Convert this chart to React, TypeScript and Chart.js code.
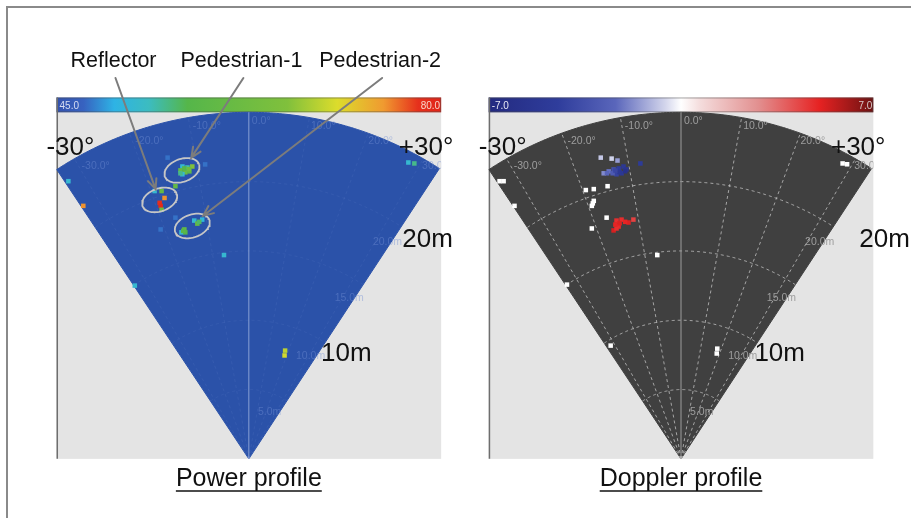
import React, { useEffect, useRef } from "react";
import { Chart, registerables } from "chart.js";

Chart.register(...registerables);

// ---------------- data ----------------
const powerBarLabels = ["45.0", "80.0"];
const dopplerBarLabels = ["-7.0", "7.0"];
const POWER_MIN = 45;
const POWER_MAX = 80;
const DOPPLER_MIN = -7;
const DOPPLER_MAX = 7;

const rangeRings = [5, 10, 15, 20];
const rangeRingLabels = ["5.0m", "10.0m", "15.0m", "20.0m"];
const angleLines = [-30, -20, -10, 0, 10, 20, 30];
const angleLineLabels = ["-30.0°", "-20.0°", "-10.0°", "0.0°", "10.0°", "20.0°", "30.0°"];

// Power profile detections: lateral x (m), forward y (m), power (dB)
const powerX = [
  -4.76, -4.4, -4.05, -4.9, -4.55, -4.76, -4.26, -4.62, -4.3, -4.9,
  -6.39, -6.32, -6.04, -6.25, -6.25, -6.75,
  -3.91, -3.69, -3.34, -4.62, -4.83, -4.55, -3.55, -4.7,
  -5.82, -3.13, -5.26, -5.26, -6.32,
  11.43, 11.86, -12.93, -11.86, -1.78, -8.17, 2.56, 2.6,
];
const powerY = [
  21.09, 21.02, 21.09, 20.81, 20.67, 20.53, 20.74, 20.95, 20.9, 20.6,
  18.47, 18.25, 18.82, 17.97, 19.32, 19.32,
  17.19, 16.97, 17.26, 16.55, 16.34, 16.34, 17.1, 16.45,
  21.73, 21.24, 19.67, 17.4, 16.55,
  21.38, 21.31, 20.03, 18.25, 14.7, 12.5, 7.46, 7.81,
];
const powerDb = [
  52, 54, 66, 60, 61, 52, 59, 57, 62, 55,
  78, 79, 75, 61, 60, 52,
  52, 60, 51, 60, 52, 57, 56, 58,
  48, 48, 60, 48, 48,
  52, 55, 52, 75, 52, 52, 70, 69,
];

// Doppler profile detections: lateral x (m), forward y (m), velocity (m/s)
const dopplerX = [
  -5.54, -5.18, -4.83, -4.47, -4.12, -4.26, -4.62, -3.91, -2.91, -5.75, -4.97, -4.55,
  -4.9, -4.4, -4.0, -5.3, -4.7,
  -6.82, -6.25, -5.26, -6.25, -6.39, -6.32, -5.33, -6.39,
  -4.62, -4.26, -3.76, -3.41, -4.47, -4.83, -4.62, -4.0, -4.4, -4.7,
  -13.0, -12.71, -11.93, 11.58, 11.9, -1.7, -8.17, -5.04, 2.56, 2.6,
];
const dopplerY = [
  20.6, 20.74, 20.88, 20.95, 21.09, 20.6, 20.53, 20.88, 21.31, 21.73, 21.66, 21.52,
  20.6, 20.7, 20.75, 20.6, 20.8,
  19.39, 19.46, 19.67, 18.61, 18.25, 18.43, 17.4, 16.62,
  17.19, 17.26, 17.05, 17.26, 16.76, 16.48, 16.62, 17.1, 17.0, 16.9,
  20.03, 20.03, 18.25, 21.31, 21.25, 14.7, 12.57, 8.17, 7.6, 7.95,
];
const dopplerVel = [
  -1.8, -2.2, -3.5, -4.6, -5.2, -5.0, -4.2, -5.4, -4.8, -0.8, -0.6, -1.5,
  -3.0, -5.2, -6.0, -2.5, -4.0,
  0, 0, 0, 0, 0, 0, 0, 0,
  4.8, 4.8, 5.2, 4.4, 4.9, 5.3, 4.8, 5.0, 5.2, 5.0,
  0, 0, 0, 0, 0, 0, 0, 0, 0, 0,
];

// Annotated targets (power profile)
const targetNames = ["Reflector", "Pedestrian-1", "Pedestrian-2"];
const targetCenterX = [-6.39, -4.79, -4.05];
const targetCenterY = [18.68, 20.81, 16.8];
const arrowTipX = [-6.68, -4.12, -3.27];
const arrowTipY = [19.46, 21.73, 17.54];

// ---------------- layout ----------------
const CANVAS_W = 911;
const CANVAS_H = 518;
const PX_PER_M = 14.08;
const LEFT_APEX_PX = 247;
const RIGHT_APEX_PX = 683;
const APEX_Y_PX = 462;
const MAX_RANGE = 25;
const FOV = 33.4;
const HALF_W = 13.78;
const BAR_H = 1.07;
const D2R = Math.PI / 180;
const FONT = "'Liberation Sans', Arial, Helvetica, sans-serif";

type Stop = [number, string];
const POWER_STOPS: Stop[] = [
  [0, "#3452ad"], [0.07, "#3762c0"], [0.15, "#2eb3e5"], [0.24, "#3cbcc0"],
  [0.34, "#55b64a"], [0.6, "#80c03c"], [0.73, "#dcdc2c"], [0.85, "#f09a30"],
  [0.94, "#e6301c"], [1, "#e02418"],
];
const DOPPLER_STOPS: Stop[] = [
  [0, "#232a80"], [0.18, "#2f3d9c"], [0.33, "#5a66bb"], [0.46, "#d4d6ec"],
  [0.5, "#ffffff"], [0.55, "#f4dcdc"], [0.7, "#e29090"], [0.86, "#e62222"],
  [1, "#6c1212"],
];

function hexRgb(h: string) {
  const n = parseInt(h.slice(1), 16);
  return [(n >> 16) & 255, (n >> 8) & 255, n & 255];
}
function colorAt(stops: Stop[], t: number) {
  t = Math.max(0, Math.min(1, t));
  for (let i = 1; i < stops.length; i++) {
    if (t <= stops[i][0]) {
      const [t0, c0] = stops[i - 1];
      const [t1, c1] = stops[i];
      const f = (t - t0) / (t1 - t0 || 1);
      const a = hexRgb(c0), b = hexRgb(c1);
      const r = a.map((v, k) => Math.round(v + (b[k] - v) * f));
      return `rgb(${r[0]},${r[1]},${r[2]})`;
    }
  }
  return stops[stops.length - 1][1];
}

function arcPts(r: number, a0: number, a1: number, step = 0.5) {
  const pts: { x: number; y: number }[] = [];
  for (let a = a0; a <= a1 + 1e-9; a += step) pts.push({ x: r * Math.sin(a * D2R), y: r * Math.cos(a * D2R) });
  return pts;
}
function ellipsePts(cx: number, cy: number, rx: number, ry: number, rot: number) {
  const pts: { x: number; y: number }[] = [];
  const c = Math.cos(rot * D2R), s = Math.sin(rot * D2R);
  for (let i = 0; i <= 72; i++) {
    const t = (i / 72) * Math.PI * 2;
    const ex = rx * Math.cos(t), ey = ry * Math.sin(t);
    pts.push({ x: cx + ex * c - ey * s, y: cy + ex * s + ey * c });
  }
  return pts;
}

const PANELS = [
  {
    axis: "x", fan: "#2b52a9", stops: POWER_STOPS, barLabels: powerBarLabels,
    barLabelColors: ["#d6dcf2", "#f8d4c8"], gridColor: "rgba(150,175,235,0.09)",
    centerColor: "rgba(200,212,242,0.6)", gridLabelColor: "rgba(115,145,212,0.45)",
    caption: "Power profile", label20X: 11.0, label10X: 5.18,
  },
  {
    axis: "x2", fan: "#404040", stops: DOPPLER_STOPS, barLabels: dopplerBarLabels,
    barLabelColors: ["#e8e8f4", "#d8c8c8"], gridColor: "rgba(190,190,190,0.8)",
    centerColor: "#9c9c9c", gridLabelColor: "#9e9e9e",
    caption: "Doppler profile", label20X: 12.78, label10X: 5.26,
  },
];

// ring label anchors (deg, m)
const RING_LABEL_POS: [number, number][] = [[11, 3.4], [24.5, 8.15], [28, 13.1], [29.6, 18.0]];
const ANNOT_LEFT_M = [-12.78, -4.9, 5.04];
const ANNOT_BASE_M = 28.27;

function buildDatasets() {
  const ds: any[] = [];
  PANELS.forEach((p) => {
    ds.push({
      data: [{ x: 0, y: 0 }, ...arcPts(MAX_RANGE, -FOV, FOV), { x: 0, y: 0 }],
      xAxisID: p.axis, yAxisID: "y", showLine: true, fill: "shape",
      backgroundColor: p.fan, borderColor: p.fan, borderWidth: 1, pointRadius: 0, order: 20,
    });
    rangeRings.forEach((r) => {
      ds.push({
        data: arcPts(r, -FOV, FOV), xAxisID: p.axis, yAxisID: "y", showLine: true, fill: false,
        borderColor: p.gridColor, borderWidth: 1, borderDash: [3, 3], pointRadius: 0, order: 15,
      });
    });
    angleLines.forEach((a) => {
      ds.push({
        data: [{ x: 0, y: 0 }, { x: MAX_RANGE * Math.sin(a * D2R), y: MAX_RANGE * Math.cos(a * D2R) }],
        xAxisID: p.axis, yAxisID: "y", showLine: true, fill: false,
        borderColor: a === 0 ? p.centerColor : p.gridColor, borderWidth: 1,
        borderDash: a === 0 ? [] : [3, 3], pointRadius: 0, order: a === 0 ? 14 : 15,
      });
    });
  });
  ds.push({
    data: powerX.map((x, i) => ({ x, y: powerY[i] })), xAxisID: "x", yAxisID: "y",
    pointStyle: "rect", pointRadius: 3.2, pointBorderWidth: 0,
    pointBackgroundColor: powerDb.map((v) => colorAt(POWER_STOPS, (v - POWER_MIN) / (POWER_MAX - POWER_MIN))),
    order: 5,
  });
  ds.push({
    data: dopplerX.map((x, i) => ({ x, y: dopplerY[i] })), xAxisID: "x2", yAxisID: "y",
    pointStyle: "rect", pointRadius: 3.2, pointBorderWidth: 0,
    pointBackgroundColor: dopplerVel.map((v) => colorAt(DOPPLER_STOPS, (v - DOPPLER_MIN) / (DOPPLER_MAX - DOPPLER_MIN))),
    order: 5,
  });
  targetNames.forEach((_, i) => {
    ds.push({
      data: ellipsePts(targetCenterX[i], targetCenterY[i], 1.3, 0.82, 20), xAxisID: "x", yAxisID: "y",
      showLine: true, fill: false, borderColor: "#c6c6c6", borderWidth: 1.8, pointRadius: 0, order: 2,
    });
  });
  return ds;
}

const decorPlugin = {
  id: "radarDecor",
  beforeDraw(chart: any) {
    const { ctx } = chart;
    ctx.save();
    ctx.fillStyle = "#ffffff";
    ctx.fillRect(0, 0, chart.width, chart.height);
    ctx.strokeStyle = "#8a8a8a";
    ctx.lineWidth = 2;
    ctx.beginPath();
    ctx.moveTo(7, chart.height);
    ctx.lineTo(7, 7);
    ctx.lineTo(chart.width, 7);
    ctx.stroke();
    ctx.restore();
  },
  beforeDatasetsDraw(chart: any) {
    const { ctx } = chart;
    const sy = chart.scales.y;
    PANELS.forEach((p) => {
      const sx = chart.scales[p.axis];
      const l = sx.getPixelForValue(-HALF_W), r = sx.getPixelForValue(HALF_W);
      const b = sy.getPixelForValue(0), t = sy.getPixelForValue(MAX_RANGE);
      const ct = sy.getPixelForValue(MAX_RANGE + BAR_H);
      ctx.save();
      ctx.fillStyle = "#e4e4e4";
      ctx.fillRect(l, t, r - l, b - t);
      const g = ctx.createLinearGradient(l, 0, r, 0);
      p.stops.forEach(([o, c]) => g.addColorStop(o, c));
      ctx.fillStyle = g;
      ctx.fillRect(l, ct, r - l, t - ct);
      ctx.strokeStyle = "rgba(80,80,80,0.5)";
      ctx.lineWidth = 1;
      ctx.strokeRect(l + 0.5, ct + 0.5, r - l - 1, t - ct - 1);
      ctx.strokeStyle = "#6e6e6e";
      ctx.lineWidth = 1.5;
      ctx.beginPath();
      ctx.moveTo(l + 0.75, ct);
      ctx.lineTo(l + 0.75, b);
      ctx.stroke();
      ctx.font = `10px ${FONT}`;
      ctx.textBaseline = "middle";
      ctx.fillStyle = p.barLabelColors[0];
      ctx.textAlign = "left";
      ctx.fillText(p.barLabels[0], l + 3, (ct + t) / 2 + 1);
      ctx.fillStyle = p.barLabelColors[1];
      ctx.textAlign = "right";
      ctx.fillText(p.barLabels[1], r - 1, (ct + t) / 2 + 1);
      ctx.restore();
    });
  },
  afterDatasetsDraw(chart: any) {
    const { ctx } = chart;
    const sy = chart.scales.y;
    PANELS.forEach((p) => {
      const sx = chart.scales[p.axis];
      const px = (x: number, y: number) => [sx.getPixelForValue(x), sy.getPixelForValue(y)];
      const l = sx.getPixelForValue(-HALF_W), r = sx.getPixelForValue(HALF_W);
      const b = sy.getPixelForValue(0), t = sy.getPixelForValue(MAX_RANGE);
      // grid labels (clipped to plot area)
      ctx.save();
      ctx.beginPath();
      ctx.rect(l, t, r - l, b - t);
      ctx.clip();
      ctx.font = `10.5px ${FONT}`;
      ctx.fillStyle = p.gridLabelColor;
      ctx.textAlign = "left";
      ctx.textBaseline = "middle";
      angleLines.forEach((a, i) => {
        const rr = 24.4;
        const [x, y] = px(rr * Math.sin(a * D2R), rr * Math.cos(a * D2R));
        ctx.fillText(angleLineLabels[i], x + 3, y);
      });
      rangeRingLabels.forEach((s, i) => {
        const [a, rr] = RING_LABEL_POS[i];
        const [x, y] = px(rr * Math.sin(a * D2R), rr * Math.cos(a * D2R));
        ctx.fillText(s, x, y);
      });
      ctx.restore();

      // big overlay labels
      ctx.save();
      ctx.fillStyle = "#111";
      ctx.font = `26px ${FONT}`;
      ctx.textBaseline = "alphabetic";
      let [x, y] = px(-14.5, 21.95);
      ctx.textAlign = "left";
      ctx.fillText("-30°", x, y);
      [x, y] = px(14.65, 21.95);
      ctx.textAlign = "right";
      ctx.fillText("+30°", x, y);
      ctx.textAlign = "left";
      [x, y] = px(p.label20X, 15.27);
      ctx.fillText("20m", x, y);
      [x, y] = px(p.label10X, 7.03);
      ctx.fillText("10m", x, y);
      // caption
      ctx.font = `25px ${FONT}`;
      ctx.textAlign = "center";
      [x, y] = px(0, -1.99);
      ctx.fillText(p.caption, x, y);
      const w = ctx.measureText(p.caption).width;
      ctx.strokeStyle = "#111";
      ctx.lineWidth = 1.5;
      ctx.beginPath();
      ctx.moveTo(x - w / 2, y + 4.5);
      ctx.lineTo(x + w / 2, y + 4.5);
      ctx.stroke();
      ctx.restore();
    });

    // target annotations on power profile
    const sx = chart.scales.x;
    ctx.save();
    ctx.font = `21.5px ${FONT}`;
    ctx.textAlign = "left";
    ctx.textBaseline = "alphabetic";
    targetNames.forEach((name, i) => {
      const tx = sx.getPixelForValue(ANNOT_LEFT_M[i]);
      const ty = sy.getPixelForValue(ANNOT_BASE_M);
      ctx.fillStyle = "#111";
      ctx.fillText(name, tx, ty);
      const w = ctx.measureText(name).width;
      const x0 = tx + w / 2 + 2, y0 = ty + 11;
      const x1 = sx.getPixelForValue(arrowTipX[i]), y1 = sy.getPixelForValue(arrowTipY[i]);
      ctx.strokeStyle = "#7c7c7c";
      ctx.lineWidth = 2;
      ctx.lineCap = "round";
      ctx.beginPath();
      ctx.moveTo(x0, y0);
      ctx.lineTo(x1, y1);
      const ang = Math.atan2(y1 - y0, x1 - x0);
      const hl = 11, ha = 24 * D2R;
      ctx.moveTo(x1 - hl * Math.cos(ang - ha), y1 - hl * Math.sin(ang - ha));
      ctx.lineTo(x1, y1);
      ctx.lineTo(x1 - hl * Math.cos(ang + ha), y1 - hl * Math.sin(ang + ha));
      ctx.stroke();
    });
    ctx.restore();
  },
};

export default function App() {
  const ref = useRef<HTMLCanvasElement>(null);
  useEffect(() => {
    const canvas = ref.current;
    if (!canvas) return;
    const chart = new Chart(canvas, {
      type: "scatter",
      data: { datasets: buildDatasets() },
      options: {
        animation: false,
        responsive: false,
        devicePixelRatio: 1,
        events: [],
        layout: { padding: 0 },
        plugins: { legend: { display: false }, tooltip: { enabled: false } },
        scales: {
          x: { type: "linear", display: false, min: -LEFT_APEX_PX / PX_PER_M, max: (CANVAS_W - LEFT_APEX_PX) / PX_PER_M },
          x2: { type: "linear", display: false, min: -RIGHT_APEX_PX / PX_PER_M, max: (CANVAS_W - RIGHT_APEX_PX) / PX_PER_M },
          y: { type: "linear", display: false, min: -(CANVAS_H - APEX_Y_PX) / PX_PER_M, max: APEX_Y_PX / PX_PER_M },
        },
      } as any,
      plugins: [decorPlugin as any],
    });
    return () => chart.destroy();
  }, []);
  return (
    <div style={{ position: "fixed", left: 0, top: 0, width: CANVAS_W, height: CANVAS_H, background: "#fff" }}>
      <canvas ref={ref} width={CANVAS_W} height={CANVAS_H} style={{ display: "block", width: CANVAS_W, height: CANVAS_H }} />
    </div>
  );
}
